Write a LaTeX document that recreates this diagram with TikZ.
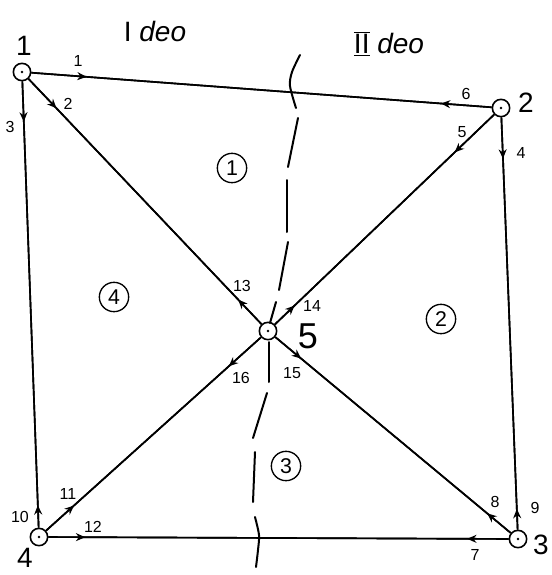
\documentclass[tikz,border=0pt]{standalone}
\usepackage{fontspec}
\setmainfont{Liberation Sans}
\usetikzlibrary{arrows.meta,decorations.markings}
\tikzset{
  vert/.style={circle,draw,line width=1.2pt,minimum size=13pt,inner sep=0pt,fill=white},
  edge/.style={line width=1.25pt},
  arr/.style={postaction={decorate,decoration={markings,mark=at position #1 with {\arrow{Stealth[length=7pt,width=6pt]}}}}},
  elab/.style={font=\fontsize{12}{12}\selectfont},
  vlab/.style={font=\fontsize{21}{21}\selectfont},
  region/.style={circle,draw,line width=1pt,minimum size=22pt,inner sep=0pt,font=\fontsize{16}{16}\selectfont},
  cut/.style={line width=1.5pt,line cap=round},
  title/.style={font=\fontsize{21}{21}\selectfont}
}
\begin{document}
\begin{tikzpicture}[x=0.75pt,y=-0.75pt]
\useasboundingbox (0,0) rectangle (552,575);
% vertices
\node[vert] (n1) at (22,72) {};
\node[vert] (n2) at (501,108) {};
\node[vert] (n3) at (518,539) {};
\node[vert] (n4) at (39,537) {};
\node[vert] (n5) at (268,331) {};
\foreach \n in {n1,n2,n3,n4,n5} \fill (\n) circle (1.3);
% vertex labels
\node[vlab] (v1) at (24,46) {1};
\node[vlab] (v2) at (526,103) {2};
\node[vlab] (v3) at (541,545) {3};
\node[vlab] (v4) at (25,558) {4};
\node[vlab,font=\fontsize{27}{27}\selectfont] (v5) at (308,336) {5};
% edges
\draw[edge,arr=0.12] (n1) -- (n2);
\draw[edge,arr=0.11] (n2) -- (n1);
\draw[edge,arr=0.12] (n1) -- (n5);
\draw[edge,arr=0.10] (n5) -- (n1);
\draw[edge,arr=0.09] (n1) -- (n4);
\draw[edge,arr=0.05] (n4) -- (n1);
\draw[edge,arr=0.18] (n2) -- (n5);
\draw[edge,arr=0.09] (n5) -- (n2);
\draw[edge,arr=0.10] (n2) -- (n3);
\draw[edge,arr=0.05] (n3) -- (n2);
\draw[edge,arr=0.11] (n5) -- (n3);
\draw[edge,arr=0.10] (n3) -- (n5);
\draw[edge,arr=0.15] (n5) -- (n4);
\draw[edge,arr=0.13] (n4) -- (n5);
\draw[edge,arr=0.08] (n4) -- (n3);
\draw[edge,arr=0.09] (n3) -- (n4);
% edge labels
\node[elab] (e1) at (78,61) {1};
\node[elab] (e2) at (68,104) {2};
\node[elab] (e3) at (10,127) {3};
\node[elab] (e4) at (521,153) {4};
\node[elab] (e5) at (462,132) {5};
\node[elab] (e6) at (466,94) {6};
\node[elab] (e7) at (475,555) {7};
\node[elab] (e8) at (495,502) {8};
\node[elab] (e9) at (535,508) {9};
\node[elab] (e10) at (20,517) {10};
\node[elab] (e11) at (68,494) {11};
\node[elab] (e12) at (93,527) {12};
\node[elab] (e13) at (242,286) {13};
\node[elab] (e14) at (312,306) {14};
\node[elab] (e15) at (292,373) {15};
\node[elab] (e16) at (241,378) {16};
% regions
\node[region] (r1) at (232,168) {1};
\node[region] (r2) at (441,319) {2};
\node[region] (r3) at (286,466) {3};
\node[region] (r4) at (114,297) {4};
% titles
\node[title] (t1) at (155,31) {\textrm{I} \textit{deo}};
\node[title] (t2) at (389,44) {$\overline{\underline{\mathrm{II}}}$ \textit{deo}};
% cut line (dashed, hand drawn)
\draw[cut] plot[smooth] coordinates {(300,55) (292,72) (290,86) (296,108)};
\draw[cut] (298,118) -- (288,167);
\draw[cut] (287,180) -- (287,232);
\draw[cut] (288,242) -- (279,290);
\draw[cut] (276,302) -- (270,323);
\draw[cut] (269,342) -- (269,382);
\draw[cut] (267,393) -- (253,438);
\draw[cut] (255,452) -- (253,502);
\draw[cut] plot[smooth] coordinates {(255,517) (259,535) (258,550) (256,567)};
\end{tikzpicture}
\end{document}
